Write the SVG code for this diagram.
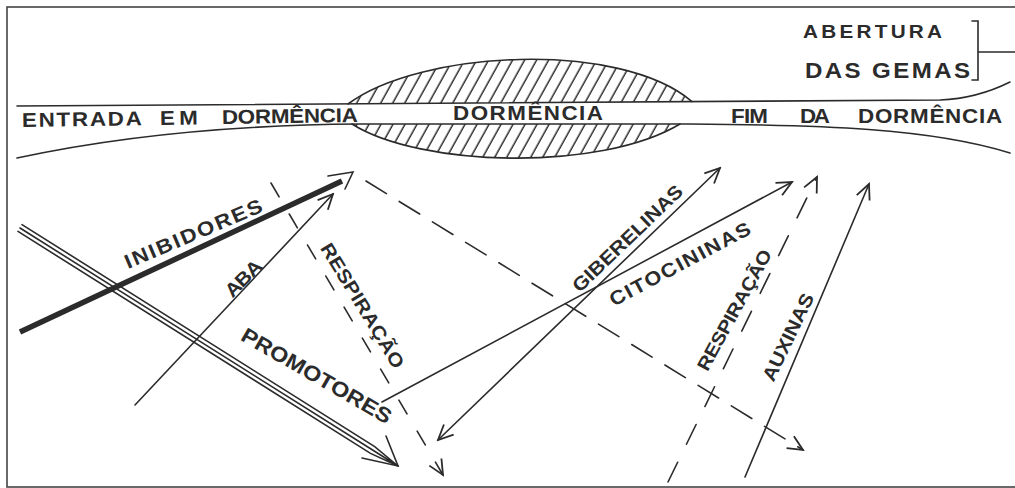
<svg xmlns="http://www.w3.org/2000/svg" width="1015" height="488" viewBox="0 0 1015 488">
<style>
.ln{stroke:#2b2b2b;fill:none;stroke-width:1.6;stroke-linecap:round}
.t{font-family:"Liberation Sans",Arial,sans-serif;font-weight:bold;fill:#2b2b2b}
</style>
<defs>
<marker id="ah" viewBox="-18 -10 20 20" markerWidth="20" markerHeight="20" refX="0" refY="0" orient="auto-start-reverse" markerUnits="userSpaceOnUse">
<path d="M-15,-7 L0,0 L-15,7" fill="none" stroke="#2b2b2b" stroke-width="1.8"/>
</marker>
<pattern id="hatch" patternUnits="userSpaceOnUse" width="10.5" height="20" patternTransform="rotate(29)">
<line x1="5" y1="-5" x2="5" y2="25" stroke="#2b2b2b" stroke-width="1.5"/>
</pattern>
</defs>
<rect width="1015" height="488" fill="#fff"/>
<g id="frame">
<rect x="7" y="7" width="1020" height="480" fill="none" stroke="#444" stroke-width="1.6"/>
</g>
<g id="dormencia-lens">
<path d="M348,104 C420,50 620,40 692,101.6 Z" fill="url(#hatch)"/>
<path d="M352,124 C420,167 600,172 680,124 Z" fill="url(#hatch)"/>
<path class="ln" d="M348,104 C420,50 620,40 692,101.6"/>
<path class="ln" d="M352,124 C420,167 600,172 680,124"/>
</g>
<g id="band">
<path class="ln" d="M17,106 L940,100 C965,99 990,92 1010,82"/>
<path class="ln" d="M17,158 C110,138 220,125 360,124 L690,124 C820,125 930,128 1010,153"/>
<text class="t" font-size="20" transform="rotate(-0.85 22 127) scale(1.12 1)"><tspan x="19.64" y="127" textLength="107.1" lengthAdjust="spacing">ENTRADA</tspan><tspan x="142.9" y="127" textLength="33.9" lengthAdjust="spacing">EM</tspan><tspan x="198.2" y="127" textLength="121.4" lengthAdjust="spacing">DORMÊNCIA</tspan></text>
<text class="t" font-size="20" transform="scale(1.12 1)" x="404.5" y="120" textLength="133.9" lengthAdjust="spacing">DORMÊNCIA</text>
<text class="t" font-size="20" transform="scale(1.12 1)"><tspan x="652.7" y="123" textLength="33" lengthAdjust="spacing">FIM</tspan><tspan x="714.3" y="123" textLength="26.8" lengthAdjust="spacing">DA</tspan><tspan x="766.1" y="123" textLength="128.6" lengthAdjust="spacing">DORMÊNCIA</tspan></text>
</g>
<g id="abertura">
<text class="t" font-size="18.5" transform="scale(1.12 1)" x="717" y="38" textLength="124.1" lengthAdjust="spacing">ABERTURA</text>
<text class="t" font-size="21.5" transform="scale(1.12 1)" x="718.75" y="78" textLength="147.3" lengthAdjust="spacing">DAS GEMAS</text>
<path class="ln" d="M972,21 L978,21 L978,80 L972,80 M978,52 L1015,52"/>
</g>
<g id="connectors">
<path d="M20,332 L342,181" stroke="#2b2b2b" stroke-width="5.5" fill="none"/>
<path class="ln" d="M328,176 L353,172 L345,189"/>
<path class="ln" d="M135,405 L333,194" marker-end="url(#ah)"/>
<path class="ln" stroke-width="1.2" d="M20,228 L372.6,450 L398,466 M18,231.4 L370.5,453.4 L398,466 M22,224.6 L374.7,446.6 L398,466"/>
<path class="ln" d="M362,458 L398,466 L386,436"/>
<path class="ln" stroke-dasharray="16 20" d="M271,183 L443,475" marker-end="url(#ah)"/>
<path class="ln" stroke-dasharray="24 15" d="M366,181 L803,450" marker-end="url(#ah)"/>
<path class="ln" d="M438,440 L720,168" marker-start="url(#ah)" marker-end="url(#ah)"/>
<path class="ln" d="M382,402 L792,182" marker-end="url(#ah)"/>
<path class="ln" stroke-dasharray="22 20" d="M668,482 L817,177" marker-end="url(#ah)"/>
<path class="ln" d="M745,477 L869,184" marker-end="url(#ah)"/>
</g>
<g id="label-inibidores"><text class="t" font-size="20" text-anchor="middle" textLength="132.1" lengthAdjust="spacing" transform="translate(196 240) rotate(-23) scale(1.12 1)">INIBIDORES</text></g>
<g id="label-aba"><text class="t" font-size="19" text-anchor="middle" textLength="39.3" lengthAdjust="spacing" transform="translate(248 283) rotate(-45) scale(1.12 1)">ABA</text></g>
<g id="label-promotores"><text class="t" font-size="21" text-anchor="middle" textLength="151.8" lengthAdjust="spacing" transform="translate(313 382) rotate(30) scale(1.12 1)">PROMOTORES</text></g>
<g id="label-respiracao-1"><text class="t" font-size="19" text-anchor="middle" textLength="127.7" lengthAdjust="spacing" transform="translate(357 309) rotate(58.7) scale(1.12 1)">RESPIRAÇÃO</text></g>
<g id="label-giberelinas"><text class="t" font-size="19" text-anchor="middle" textLength="129.5" lengthAdjust="spacing" transform="translate(632 243) rotate(-43.8) scale(1.12 1)">GIBERELINAS</text></g>
<g id="label-citocininas"><text class="t" font-size="19.5" text-anchor="middle" textLength="140.2" lengthAdjust="spacing" transform="translate(683 270) rotate(-28) scale(1.12 1)">CITOCININAS</text></g>
<g id="label-respiracao-2"><text class="t" font-size="18.5" text-anchor="middle" textLength="120.5" lengthAdjust="spacing" transform="translate(740 313) rotate(-61.3) scale(1.12 1)">RESPIRAÇÃO</text></g>
<g id="label-auxinas"><text class="t" font-size="19" text-anchor="middle" textLength="84.8" lengthAdjust="spacing" transform="translate(794 340) rotate(-64.4) scale(1.12 1)">AUXINAS</text></g>
</svg>
